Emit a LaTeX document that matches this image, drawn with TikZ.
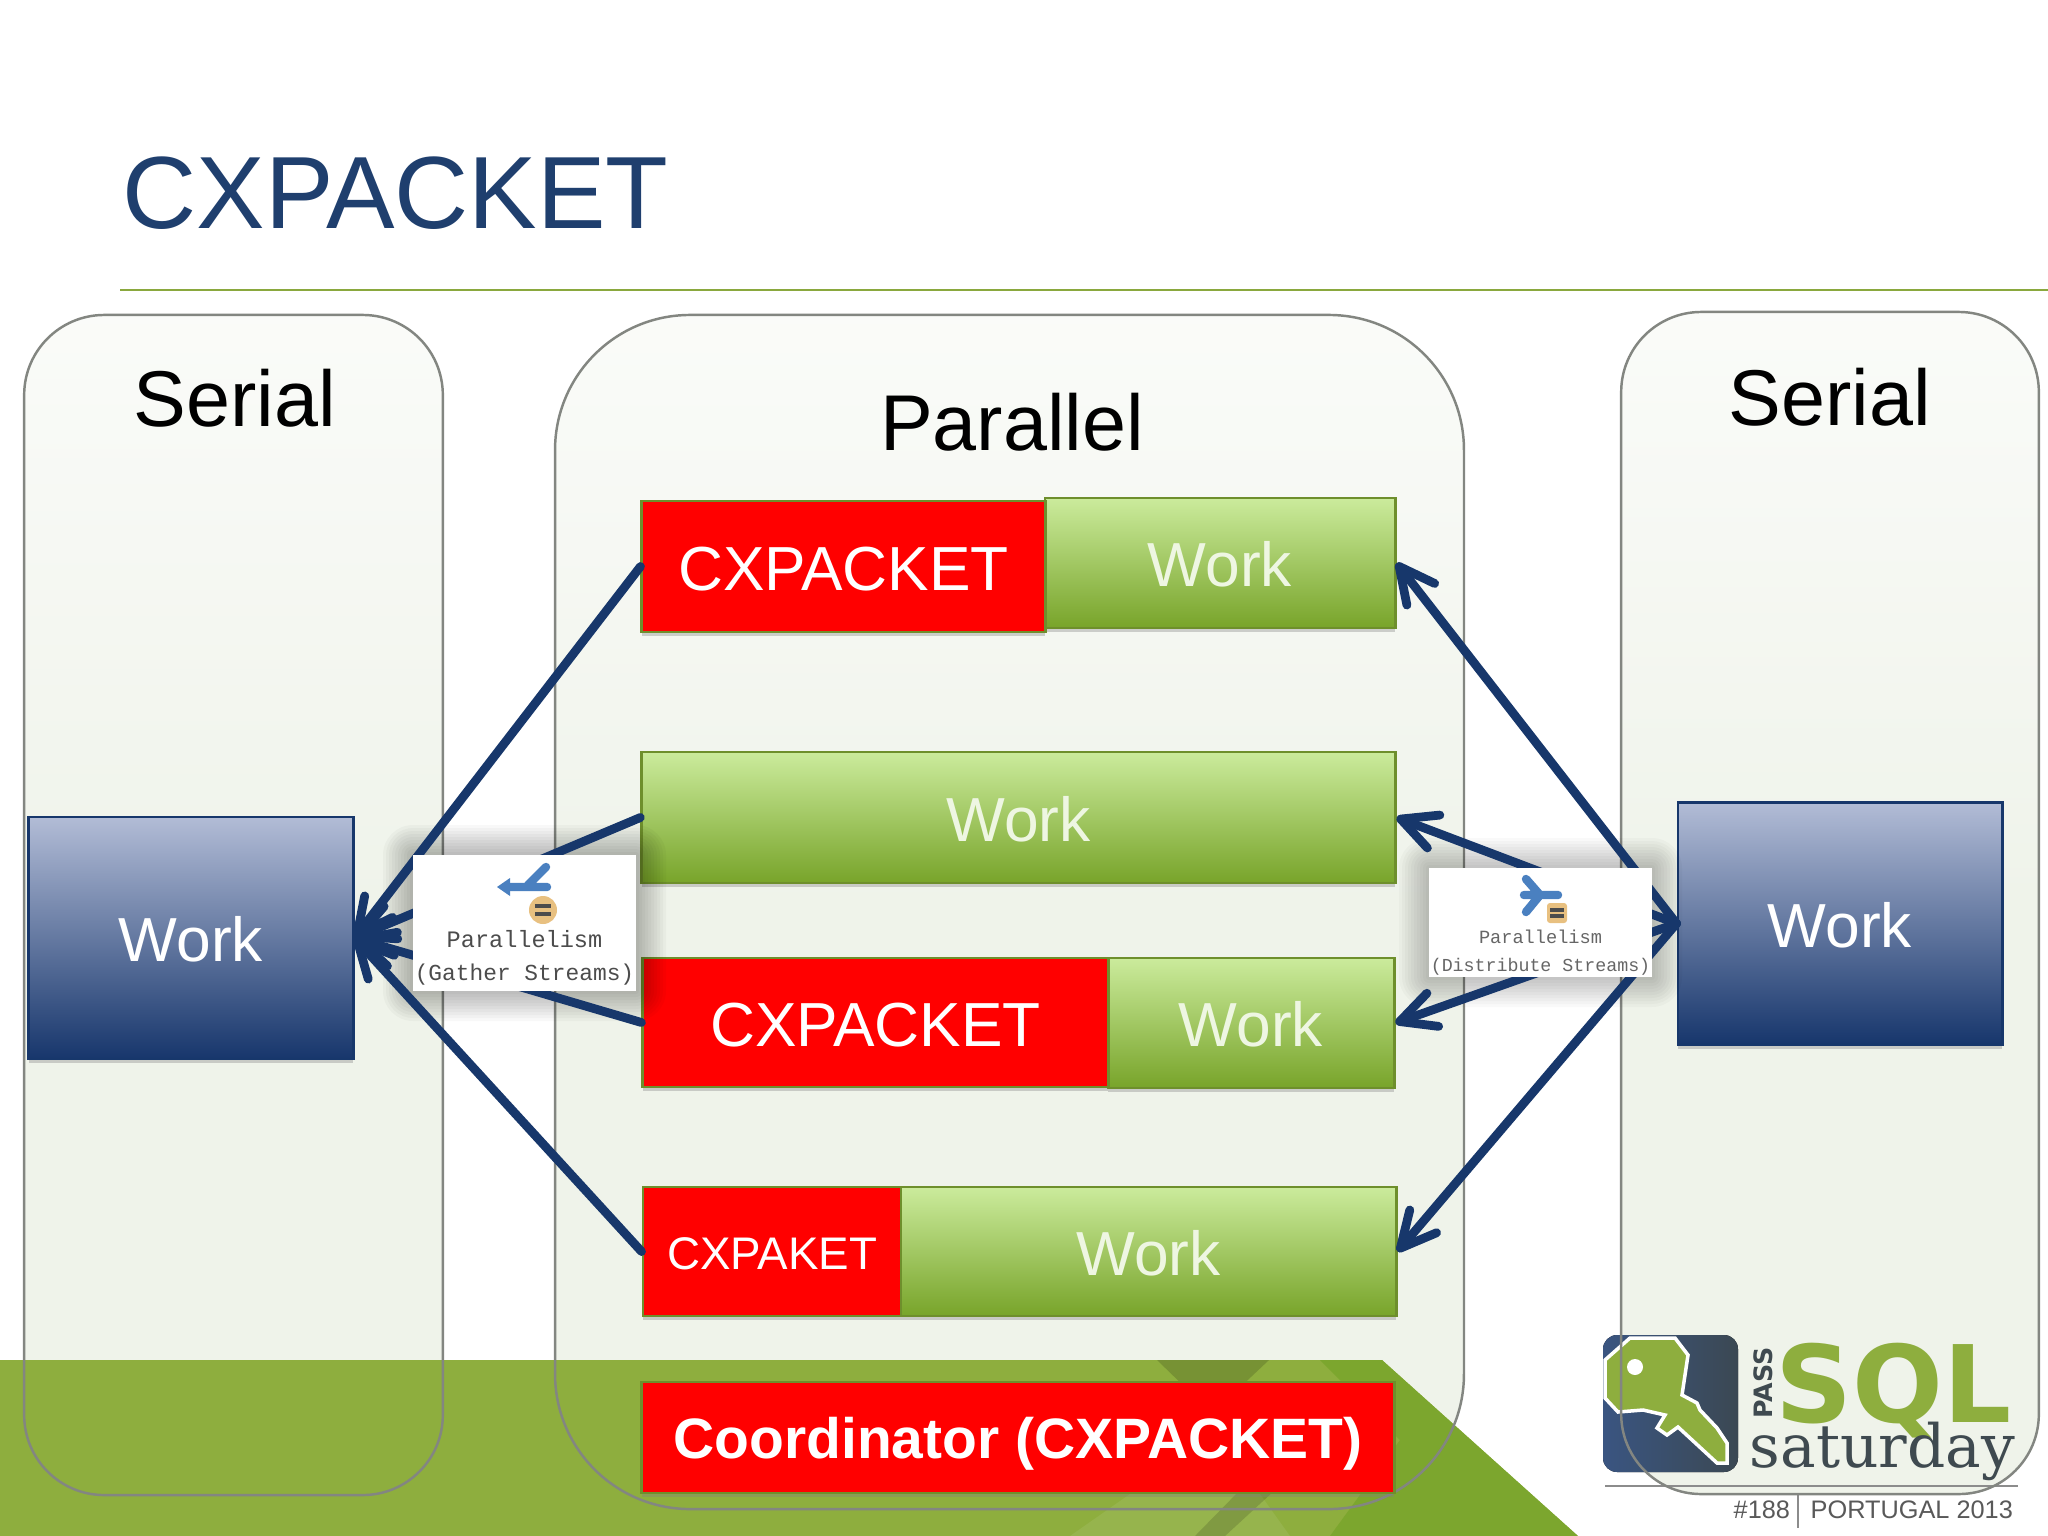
\documentclass[tikz,border=0pt]{standalone}
\usepackage{fontspec}
\setmainfont{Liberation Sans}
\setmonofont{Liberation Mono}
\newfontfamily\slabfont{DejaVu Serif}
\newfontfamily\heavyfont{DejaVu Sans}
\usepackage{tikz}
\usetikzlibrary{arrows.meta,shadows}

\definecolor{navy}{HTML}{17376B}
\definecolor{titleblue}{HTML}{1F3F6E}
\definecolor{rulegreen}{HTML}{8AA83E}
\definecolor{bandgreen}{HTML}{8EAE3E}
\definecolor{boxedge}{HTML}{6E8F2C}
\definecolor{boxtop}{HTML}{CBEB9C}
\definecolor{boxbottom}{HTML}{78A42A}
\definecolor{worktext}{HTML}{EEF6E2}
\definecolor{bluetop}{HTML}{B2BCD6}
\definecolor{bluebottom}{HTML}{17366C}
\definecolor{panelfill}{HTML}{EFF3EA}
\definecolor{logogrey}{HTML}{3F4A50}
\definecolor{iconblue}{HTML}{4A80C0}
\definecolor{iconorange}{HTML}{E8C080}

\newcommand{\fsz}[1]{\fontsize{#1}{#1}\selectfont}

\tikzset{
    panel node/.style={rectangle,inner sep=0pt,top color=panelfill!30!white,bottom color=panelfill,middle color=panelfill},
    panel line/.style={draw=black!45!panelfill,line width=.7pt},
    work node/.style={rectangle,inner sep=0pt,draw=boxedge,line width=.8pt,top color=boxtop,bottom color=boxbottom,
        text=worktext,font=\fsz{17.7},text height=13.6pt,text depth=0pt,drop shadow={opacity=.35,shadow xshift=0pt,shadow yshift=-1.2pt}},
    wait node/.style={rectangle,inner sep=0pt,draw=boxedge,line width=.8pt,fill=red,text=white,font=\fsz{17.7},
        text height=13.4pt,text depth=0pt,drop shadow={opacity=.35,shadow xshift=0pt,shadow yshift=-1.2pt}},
    serial node/.style={rectangle,inner sep=0pt,draw=navy,line width=.8pt,top color=bluetop,bottom color=bluebottom,
        text=white,font=\fsz{17.7},text height=13.4pt,text depth=0pt,minimum width=3.24cm,minimum height=2.42cm,drop shadow={opacity=.35,shadow xshift=0pt,shadow yshift=-1.2pt}},
    head node/.style={anchor=base,inner sep=0pt,text=black,font=\fsz{22.5}},
    plan node/.style={rectangle,inner sep=0pt,fill=white},
    plan text/.style={anchor=base,inner sep=0pt,text=black!70,font=\ttfamily},
    logo text/.style={anchor=base west,inner sep=0pt}
}

\begin{document}
\begin{tikzpicture}[x=0.01cm,y=-0.01cm,>={Straight Barb[length=10pt,width=10pt,round]},
    every edge/.style={draw=navy,line width=2.5pt,line cap=round}]

\useasboundingbox (0,0) rectangle (2048,1536);
\fill[white] (0,0) rectangle (2048,1536);

\node[anchor=base west,inner sep=0pt,text=titleblue,font=\fsz{29.2}] (title) at (122,228) {CXPACKET};
\draw[rulegreen,line width=.7pt] (120,290) -- (2048,290);

\node[panel node,rounded corners=.8cm,minimum width=4.17cm,minimum height=11.78cm] (left) at (233.5,905) {};
\node[panel node,rounded corners=1.35cm,minimum width=9.07cm,minimum height=11.92cm] (mid) at (1009.5,912) {};
\node[panel node,rounded corners=.8cm,minimum width=4.16cm,minimum height=11.80cm] (right) at (1830,903) {};

\fill[bandgreen] (0,1360) -- (1382,1360) -- (1578,1536) -- (0,1536) -- cycle;
\fill[black!40!bandgreen,opacity=.4] (1157,1360) -- (1269,1360) -- (1235,1392) -- (1190,1392) -- cycle;
\fill[boxbottom,opacity=.8] (1320,1360) -- (1382,1360) -- (1578,1536) -- (1330,1536) -- (1400,1440) -- cycle;
\fill[white,opacity=.08] (1070,1536) -- (1150,1480) -- (1250,1480) -- (1290,1536) -- cycle;
\fill[black,opacity=.14] (1240,1490) -- (1275,1490) -- (1225,1536) -- (1195,1536) -- cycle;

\fill[rounded corners=.14cm,left color=navy!85!white,right color=logogrey!90!navy]
    (1603,1335) rectangle (1738,1472);
\fill[bandgreen,draw=white,line width=1pt] (1630,1338) -- (1675,1338) -- (1688,1355) -- (1682,1395)
    -- (1697,1403) -- (1700,1410) -- (1717,1428) -- (1727,1443) -- (1727,1463) -- (1717,1463)
    -- (1678,1427) -- (1667,1435) -- (1657,1428) -- (1665,1415) -- (1643,1410) -- (1618,1412)
    -- (1605,1398) -- (1605,1360) -- cycle;
\fill[white] (1635,1367) circle[radius=.08cm];
\node[logo text,text=logogrey,font=\heavyfont\bfseries\fsz{7.2},rotate=90] (pass) at (1772,1419) {PASS};
\node[logo text,text=bandgreen,font=\heavyfont\bfseries\fsz{30.4}] (sql) at (1775,1422) {SQL};
\node[logo text,text=logogrey,font=\slabfont\fsz{17}] (sat) at (1749,1467) {saturday};
\draw[black!45,line width=.5pt] (1605,1486) -- (2018,1486);
\draw[black!45,line width=.7pt] (1798,1495) -- (1798,1528);
\node[logo text,text=black!65,font=\fsz{7.2}] (num) at (1733,1518) {\#188};
\node[logo text,text=black!65,font=\fsz{7.2}] (place) at (1810,1518) {PORTUGAL 2013};

\draw[panel line,rounded corners=.8cm] (left.south west) rectangle (left.north east);
\draw[panel line,rounded corners=1.35cm] (mid.south west) rectangle (mid.north east);
\draw[panel line,rounded corners=.8cm] (right.south west) rectangle (right.north east);

\node[head node] (h1) at (235,426) {Serial};
\node[head node] (h2) at (1012,450) {Parallel};
\node[head node] (h3) at (1830,425) {Serial};

\node[serial node] (w1) at (191,938) {Work};
\node[serial node] (w2) at (1840,923.5) {Work};

\node[work node,minimum width=3.50cm,minimum height=1.30cm] (g1) at (1220,563) {Work};
\node[wait node,minimum width=4.03cm,minimum height=1.31cm] (r1) at (843.5,566.5) {CXPACKET};
\node[work node,minimum width=7.53cm,minimum height=1.31cm] (g2) at (1018.5,817.5) {Work};
\node[work node,minimum width=2.86cm,minimum height=1.30cm] (g3) at (1251,1023) {Work};
\node[wait node,minimum width=4.65cm,minimum height=1.29cm] (r3) at (875.5,1022.5) {CXPACKET};
\node[work node,minimum width=4.95cm,minimum height=1.29cm] (g4) at (1148.5,1251.5) {Work};
\node[wait node,minimum width=2.58cm,minimum height=1.29cm,font=\fsz{13},text height=10pt] (r4) at (772,1251.5) {CXPAKET};
\node[wait node,minimum width=7.52cm,minimum height=1.11cm,font=\bfseries\fsz{16.2},text height=11.8pt] (coord) at (1018,1437.5) {Coordinator (CXPACKET)};

\foreach \s in {3,6,...,30} {
    \fill[black,opacity=.028,rounded corners=\s*.01cm] (413-\s,855-\s) rectangle (636+\s,991+\s);
    \fill[black,opacity=.022,rounded corners=\s*.01cm] (1429-\s,868-\s) rectangle (1652+\s,977+\s);
}

\path
(r1.west) edge [->] (w1.east)
(g2.west) edge [->] (w1.east)
(r3.west) edge [->] (w1.east)
(r4.west) edge [->] (w1.east)

(w2.west) edge [->] (g1.east)
(w2.west) edge [->] (g2.east)
(w2.west) edge [->] (g3.east)
(w2.west) edge [->] (g4.east);

\node[plan node,minimum width=2.23cm,minimum height=1.36cm] (gather) at (524.5,923) {};
\node[plan node,minimum width=2.23cm,minimum height=1.09cm] (dist) at (1540.5,922.5) {};

\draw[iconblue,line width=2.4pt,line cap=round] (505,887) -- (547,887) (528,885) -- (546,867);
\fill[iconblue] (497,887) -- (510,878) -- (510,896) -- cycle;
\fill[iconorange] (543,910) circle[radius=.14cm];
\draw[black!70,line width=.9pt] (535,906) -- (551,906) (535,914) -- (551,914);
\node[plan text,font=\ttfamily\fsz{6.7}] (p1) at (524.5,947) {Parallelism};
\node[plan text,font=\ttfamily\fsz{6.5}] (p2) at (524.5,980) {(Gather Streams)};

\draw[iconblue,line width=2.4pt,line cap=round] (1524,895) -- (1558,895) (1526,879) -- (1540,895) -- (1526,912);
\fill[iconorange,rounded corners=.03cm] (1547,903) rectangle (1567,923);
\draw[black!70,line width=.9pt] (1550,910) -- (1564,910) (1550,916) -- (1564,916);
\node[plan text,text=black!60,font=\ttfamily\fsz{5.3}] (d1) at (1540.5,943) {Parallelism};
\node[plan text,text=black!60,font=\ttfamily\fsz{5.2}] (d2) at (1540.5,971) {(Distribute Streams)};

\end{tikzpicture}
\end{document}
